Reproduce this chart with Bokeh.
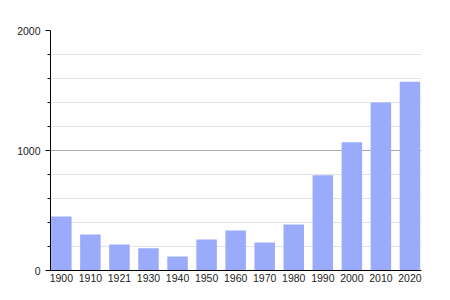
from bokeh.plotting import figure
from bokeh.models import FixedTicker, Range1d
from bokeh.embed import file_html
from bokeh.resources import INLINE

years = ["1900", "1910", "1921", "1930", "1940", "1950", "1960",
         "1970", "1980", "1990", "2000", "2010", "2020"]
population = [450, 300, 217, 186, 117, 258, 333, 233, 383, 794, 1069, 1400, 1572]

xs = list(range(len(years)))

p = figure(width=450, height=300, output_backend="svg", toolbar_location=None,
           x_range=Range1d(-0.373, len(years) - 1 + 0.397),
           y_range=Range1d(0, 2000),
           min_border_left=50, min_border_right=29,
           min_border_top=30, min_border_bottom=30)
p.outline_line_color = None
p.background_fill_color = "white"
p.border_fill_color = "white"

p.vbar(x=xs, top=population, width=0.706, bottom=0,
       fill_color="#9aabfc", line_color=None)

# x axis
xa = p.xaxis[0]
xa.ticker = FixedTicker(ticks=xs)
xa.major_label_overrides = {i: y for i, y in zip(xs, years)}
xa.major_tick_line_color = None
xa.minor_tick_line_color = None
xa.major_tick_out = 0
xa.major_tick_in = 0
xa.minor_tick_out = 0
xa.minor_tick_in = 0
xa.axis_line_color = "black"
xa.axis_line_width = 1
xa.major_label_standoff = 3
xa.major_label_text_font = "Liberation Sans"
xa.major_label_text_font_size = "10.5px"
xa.major_label_text_color = "#222222"

# y axis
ya = p.yaxis[0]
ya.ticker = FixedTicker(ticks=[0, 1000, 2000],
                        minor_ticks=[200, 400, 600, 800, 1200, 1400, 1600, 1800])
ya.axis_line_color = "black"
ya.major_tick_in = 0
ya.major_tick_out = 5
ya.minor_tick_in = 0
ya.minor_tick_out = 3
ya.major_tick_line_color = "black"
ya.minor_tick_line_color = "black"
ya.major_label_standoff = 5
ya.major_label_text_font = "Liberation Sans"
ya.major_label_text_font_size = "10.5px"
ya.major_label_text_color = "#222222"

p.xgrid.grid_line_color = None
p.ygrid.grid_line_color = "#aaaaaa"
p.ygrid.minor_grid_line_color = "#e3e3e3"

open("out.html", "w").write(file_html(p, INLINE))
